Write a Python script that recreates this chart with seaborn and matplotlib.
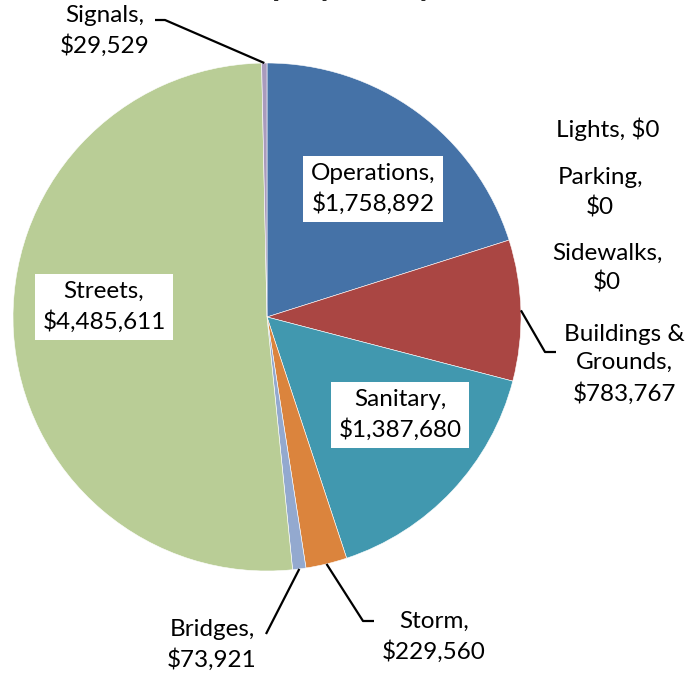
import matplotlib
matplotlib.use('Agg')
import matplotlib.pyplot as plt
import seaborn as sns
import numpy as np

# Dados do gráfico
categories = ['Operations', 'Lights', 'Parking', 'Sidewalks', 'Buildings &\nGrounds',
              'Sanitary', 'Storm', 'Bridges', 'Streets', 'Signals']
amounts = [1758892, 0, 0, 0, 783767, 1387680, 229560, 73921, 4485611, 29529]
colors = ['#4572A7', '#89A54E', '#71588F', '#D19392', '#AA4643',
          '#4198AF', '#DB843D', '#93A9CF', '#B9CD96', '#A99BBD']
title = 'Employee Pay'

sns.set_theme(style='white')
plt.rcParams['font.family'] = ['Lato', 'DejaVu Sans']

W, H = 688, 679
fig = plt.figure(figsize=(W / 100, H / 100), dpi=100)
ax = fig.add_axes([0, 0, 1, 1])

cx, cy, r = 267, H - 317, 254

nz = [i for i, v in enumerate(amounts) if v > 0]
wedges, _ = ax.pie([amounts[i] for i in nz], colors=[colors[i] for i in nz],
                   startangle=90, counterclock=False, center=(cx, cy), radius=r,
                   wedgeprops=dict(edgecolor='white', linewidth=0.4))
ax.set_xlim(0, W)
ax.set_ylim(0, H)
ax.set_aspect('equal')
ax.axis('off')

# posições dos rótulos (pixels, origem no topo)
label_pos = {
    'Operations': (373, 189), 'Lights': (608, 129), 'Parking': (600, 193),
    'Sidewalks': (607, 268), 'Buildings &\nGrounds': (624, 364),
    'Sanitary': (400, 415), 'Storm': (434, 637), 'Bridges': (212, 645),
    'Streets': (104, 307), 'Signals': (105, 31),
}
boxed = ['Operations', 'Sanitary', 'Streets']
# cotovelos das linhas de chamada
leaders = {
    'Signals': [(165, 20), (155, 20)],
    'Buildings &\nGrounds': [(545, 352), (556, 352)],
    'Storm': [(363, 621), (374, 621)],
    'Bridges': [(266, 634)],
}

wedge_of = {categories[i]: w for i, w in zip(nz, wedges)}

for name, val in zip(categories, amounts):
    sep = ' ' if name == 'Lights' else '\n'
    txt = f'{name},{sep}${val:,}'
    x, y = label_pos[name]
    kw = {}
    if name in boxed:
        kw['bbox'] = dict(boxstyle='square,pad=0.3', fc='white', ec='none')
    ax.text(x, H - y, txt, ha='center', va='center', fontsize=17.5,
            color='black', linespacing=1.45, **kw)
    if name in leaders:
        w = wedge_of[name]
        mid = np.deg2rad((w.theta1 + w.theta2) / 2)
        px = [cx + r * np.cos(mid)] + [p[0] for p in leaders[name]]
        py = [cy + r * np.sin(mid)] + [H - p[1] for p in leaders[name]]
        ax.plot(px, py, color='black', lw=1.6, solid_capstyle='butt')

fig.text(330 / W, 1 + 4 / H, title, ha='center', va='baseline',
         fontsize=24, fontweight='bold')

fig.savefig('out.png', dpi=100)
